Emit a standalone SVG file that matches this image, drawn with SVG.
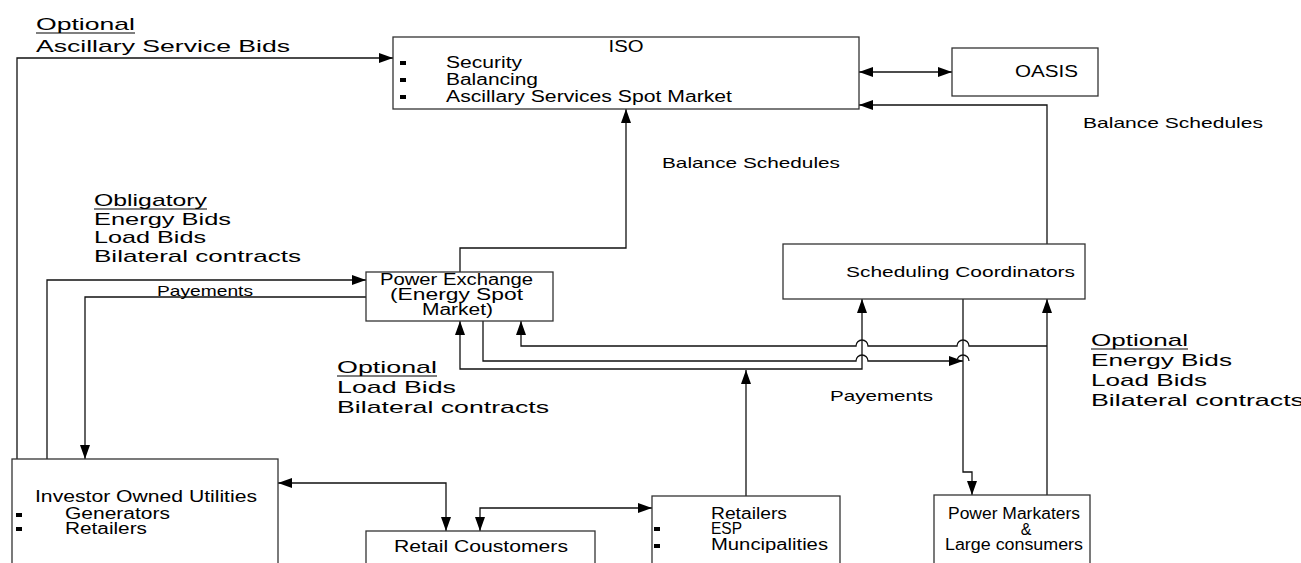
<svg xmlns="http://www.w3.org/2000/svg" width="1301" height="563" viewBox="0 0 1301 563">
<defs>
<marker id="ah" viewBox="0 0 14 10" refX="14" refY="5" markerWidth="14" markerHeight="10" markerUnits="userSpaceOnUse" orient="auto-start-reverse"><path d="M0,0 L14,5 L0,10 z" fill="#000"/></marker>
<style>
.box{fill:#fff;stroke:#333;stroke-width:1.3}
.ln{fill:none;stroke:#111;stroke-width:1.3}
.ar{fill:none;stroke:#111;stroke-width:1.3;marker-end:url(#ah)}
.ar2{fill:none;stroke:#111;stroke-width:1.3;marker-end:url(#ah);marker-start:url(#ah)}
text{font-family:"Liberation Sans",Arial,sans-serif;fill:#000}
.t{font-size:16px}
.s{font-size:15px}
.l{font-size:17px}
.c{text-anchor:middle}
.u{stroke:#000;stroke-width:1.2}
.b{fill:#000}
</style>
</defs>
<rect width="1301" height="563" fill="#fff"/>

<g id="connectors">
<path class="ar" d="M17,459 V58 H393"/>
<path class="ar" d="M47,459 V280 H366"/>
<path class="ar" d="M366,297 H85 V459"/>
<path class="ar2" d="M859,72 H952"/>
<path class="ar" d="M460,272 V248 H626 V109"/>
<path class="ar" d="M1047,244 V105 H859"/>
<path class="ar2" d="M460,321 V369 H862 V299"/>
<path class="ar" d="M746,496 V370"/>
<path class="ar" d="M483,321 V361 H856 A6,6 0 0 1 868,361 H963"/>
<path class="ln" d="M957,361 A6,6 0 0 1 969,361"/>
<path class="ar" d="M1047,346 H969 A6,6 0 0 0 957,346 H868 A6,6 0 0 0 856,346 H521 V321"/>
<path class="ar" d="M1047,495 V299"/>
<path class="ar" d="M963,299 V472 H972 V495"/>
<path class="ar2" d="M278,483 H446 V531"/>
<path class="ar2" d="M480,531 V508 H652"/>
</g>

<g id="iso">
<rect class="box" x="393" y="37" width="466" height="72"/>
<text class="t c" x="626" y="52" textLength="35" lengthAdjust="spacingAndGlyphs">ISO</text>
<rect class="b" x="400" y="61" width="6" height="4"/>
<rect class="b" x="400" y="78" width="6" height="4"/>
<rect class="b" x="400" y="95" width="6" height="4"/>
<text class="t" x="446" y="68" textLength="76" lengthAdjust="spacingAndGlyphs">Security</text>
<text class="t" x="446" y="85" textLength="92" lengthAdjust="spacingAndGlyphs">Balancing</text>
<text class="t" x="446" y="102" textLength="286" lengthAdjust="spacingAndGlyphs">Ascillary Services Spot Market</text>
</g>

<g id="oasis">
<rect class="box" x="952" y="48" width="146" height="48"/>
<text class="t" x="1015" y="77" textLength="63" lengthAdjust="spacingAndGlyphs">OASIS</text>
</g>

<g id="power-exchange">
<rect class="box" x="366" y="272" width="187" height="49"/>
<text class="t" x="380" y="285" textLength="153" lengthAdjust="spacingAndGlyphs">Power Exchange</text>
<text class="t" x="390" y="300" textLength="133" lengthAdjust="spacingAndGlyphs">(Energy Spot</text>
<text class="t" x="422" y="315" textLength="71" lengthAdjust="spacingAndGlyphs">Market)</text>
</g>

<g id="scheduling-coordinators">
<rect class="box" x="783" y="244" width="302" height="55"/>
<text class="s" x="846" y="277" textLength="229" lengthAdjust="spacingAndGlyphs">Scheduling Coordinators</text>
</g>

<g id="iou">
<rect class="box" x="12" y="459" width="266" height="130"/>
<text class="t" x="35" y="502" textLength="222" lengthAdjust="spacingAndGlyphs">Investor Owned Utilities</text>
<rect class="b" x="16" y="513" width="6" height="4"/>
<rect class="b" x="16" y="527" width="6" height="4"/>
<text class="t" x="65" y="519" textLength="105" lengthAdjust="spacingAndGlyphs">Generators</text>
<text class="t" x="65" y="534" textLength="82" lengthAdjust="spacingAndGlyphs">Retailers</text>
</g>

<g id="retail-customers">
<rect class="box" x="366" y="531" width="229" height="50"/>
<text class="t" x="394" y="552" textLength="174" lengthAdjust="spacingAndGlyphs">Retail Coustomers</text>
</g>

<g id="retailers">
<rect class="box" x="652" y="496" width="188" height="80"/>
<text class="t" x="711" y="519" textLength="76" lengthAdjust="spacingAndGlyphs">Retailers</text>
<rect class="b" x="654" y="527" width="6" height="4"/>
<rect class="b" x="654" y="544" width="6" height="4"/>
<text class="t" x="711" y="534" textLength="31" lengthAdjust="spacingAndGlyphs">ESP</text>
<text class="t" x="711" y="550" textLength="117" lengthAdjust="spacingAndGlyphs">Muncipalities</text>
</g>

<g id="power-marketers">
<rect class="box" x="934" y="495" width="156" height="80"/>
<text class="t" x="948" y="519" textLength="132" lengthAdjust="spacingAndGlyphs">Power Markaters</text>
<text class="t c" x="1026" y="535">&amp;</text>
<text class="t" x="945" y="550" textLength="138" lengthAdjust="spacingAndGlyphs">Large consumers</text>
</g>

<g id="labels">
<text class="l" x="36" y="30" textLength="99" lengthAdjust="spacingAndGlyphs">Optional</text>
<line class="u" x1="36" y1="33" x2="135" y2="33"/>
<text class="l" x="36" y="52" textLength="254" lengthAdjust="spacingAndGlyphs">Ascillary Service Bids</text>

<text class="l" x="94" y="206" textLength="113" lengthAdjust="spacingAndGlyphs">Obligatory</text>
<line class="u" x1="94" y1="209" x2="207" y2="209"/>
<text class="l" x="94" y="225" textLength="137" lengthAdjust="spacingAndGlyphs">Energy Bids</text>
<text class="l" x="94" y="243" textLength="112" lengthAdjust="spacingAndGlyphs">Load Bids</text>
<text class="l" x="94" y="262" textLength="207" lengthAdjust="spacingAndGlyphs">Bilateral contracts</text>

<text class="s" x="157" y="296" textLength="96" lengthAdjust="spacingAndGlyphs">Payements</text>

<text class="s" x="662" y="168" textLength="178" lengthAdjust="spacingAndGlyphs">Balance Schedules</text>
<text class="s" x="1083" y="128" textLength="180" lengthAdjust="spacingAndGlyphs">Balance Schedules</text>

<text class="l" x="337" y="373" textLength="100" lengthAdjust="spacingAndGlyphs">Optional</text>
<line class="u" x1="337" y1="376" x2="437" y2="376"/>
<text class="l" x="337" y="393" textLength="119" lengthAdjust="spacingAndGlyphs">Load Bids</text>
<text class="l" x="337" y="413" textLength="212" lengthAdjust="spacingAndGlyphs">Bilateral contracts</text>

<text class="s" x="830" y="401" textLength="103" lengthAdjust="spacingAndGlyphs">Payements</text>

<text class="l" x="1091" y="346" textLength="97" lengthAdjust="spacingAndGlyphs">Optional</text>
<line class="u" x1="1091" y1="349" x2="1188" y2="349"/>
<text class="l" x="1091" y="366" textLength="141" lengthAdjust="spacingAndGlyphs">Energy Bids</text>
<text class="l" x="1091" y="386" textLength="116" lengthAdjust="spacingAndGlyphs">Load Bids</text>
<text class="l" x="1091" y="406" textLength="213" lengthAdjust="spacingAndGlyphs">Bilateral contracts</text>
</g>
</svg>
